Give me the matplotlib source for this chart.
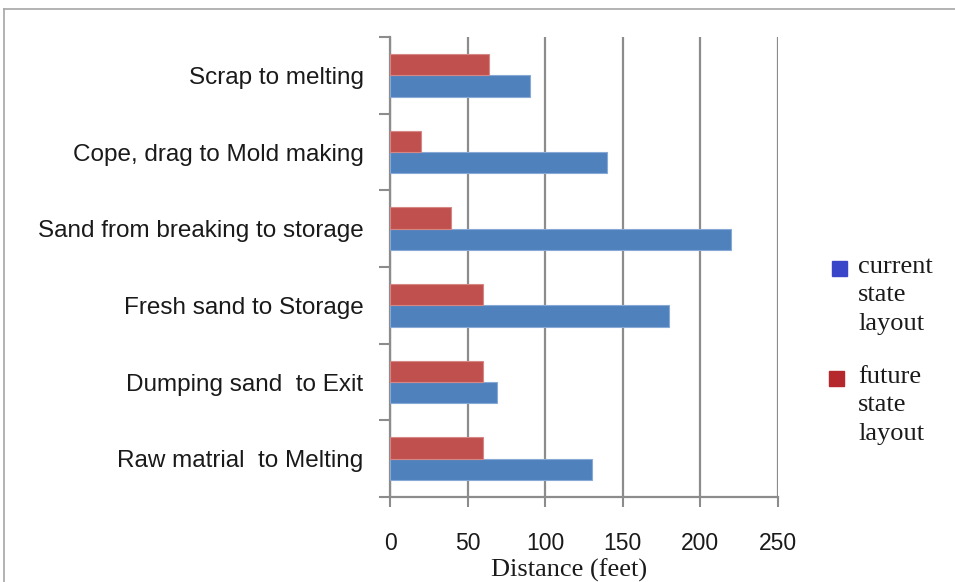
import matplotlib.pyplot as plt
from matplotlib.lines import Line2D
from matplotlib.patches import Rectangle
import numpy as np

# Material handling distances per route (feet)
routes = [
    "Raw matrial  to Melting",
    "Dumping sand  to Exit",
    "Fresh sand to Storage",
    "Sand from breaking to storage",
    "Cope, drag to Mold making",
    "Scrap to melting",
]
current_state = [130, 69, 180, 220, 140, 90]
future_state = [60, 60, 60, 39, 20, 64]
x_ticks = [0, 50, 100, 150, 200, 250]

BLUE = "#4F81BD"
RED = "#C0504D"
GRID = "#8c8c8c"

W, H = 955, 582
fig = plt.figure(figsize=(W / 100, H / 100), dpi=100)
ax = fig.add_axes([390 / W, 85 / H, 388 / W, 460 / H])

y = np.arange(len(routes))
h = 0.28
ax.barh(y - h / 2, current_state, height=h, color=BLUE,
        edgecolor="#86a9d6", linewidth=0.8, zorder=3)
ax.barh(y + h / 2, future_state, height=h, color=RED,
        edgecolor="#d48784", linewidth=0.8, zorder=3)

ax.set_xlim(0, 250)
ax.set_ylim(-0.5, len(routes) - 0.5)

# x axis
ax.set_xticks(x_ticks)
ax.tick_params(axis="x", length=7, width=1.5, color=GRID, direction="out",
               pad=18, labelsize=16.5, labelcolor="#1a1a1a")
for lbl in ax.get_xticklabels():
    lbl.set_family("Liberation Sans")
ax.grid(axis="x", color=GRID, linewidth=1.6, zorder=0)

# y axis: labels at category centres, marks between categories
ax.set_yticks(y)
ax.set_yticklabels(routes, family="Liberation Sans", fontsize=17.5,
                   color="#1a1a1a")
ax.set_yticks(np.arange(-0.5, len(routes)), minor=True)
ax.tick_params(axis="y", which="major", length=0, pad=19)
ax.tick_params(axis="y", which="minor", length=8, width=1.5, color=GRID,
               direction="out")

for side in ("top", "right"):
    ax.spines[side].set_visible(False)
for side in ("left", "bottom"):
    ax.spines[side].set_color(GRID)
    ax.spines[side].set_linewidth(1.6)

ax.set_xlabel("Distance (feet)", family="Liberation Serif", fontsize=19,
              color="#1a1a1a")
ax.xaxis.set_label_coords((569 - 390) / 388, (497 - 559) / 460)

# legend drawn by hand in pixel space
def px(x0, y0):
    return x0 / W, 1 - y0 / H

legend_items = [
    ("current\nstate\nlayout", "#3a46c9", 832, 261, 256),
    ("future\nstate\nlayout", "#b5282c", 829, 371, 366),
]
for text, col, mx, my, ty in legend_items:
    fig.add_artist(Rectangle(px(mx, my + 15), 15 / W, 15 / H,
                             transform=fig.transFigure, color=col))
    fig.text(*px(858, ty), text, family="Liberation Serif", fontsize=19,
             va="top", ha="left", linespacing=1.38, color="#1a1a1a")

# outer frame
fig.add_artist(Line2D([4 / W, 1], [1 - 9 / H] * 2, color="#a6a6a6",
                      linewidth=1.2, transform=fig.transFigure))
fig.add_artist(Line2D([4 / W] * 2, [0, 1 - 9 / H], color="#a6a6a6",
                      linewidth=1.2, transform=fig.transFigure))

fig.savefig("out.png", dpi=100)
